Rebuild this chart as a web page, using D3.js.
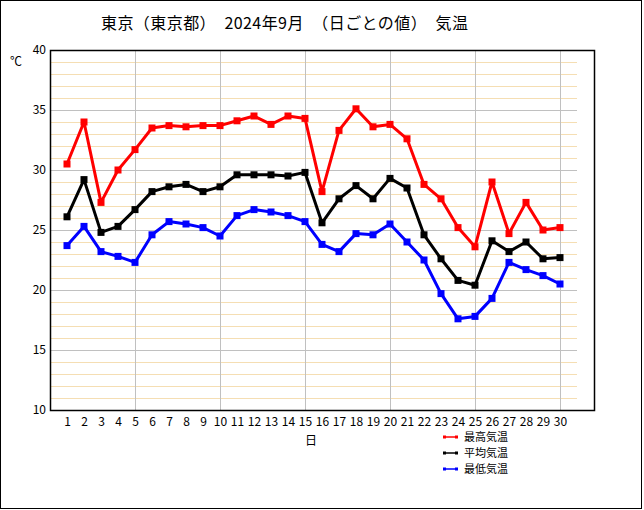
<!DOCTYPE html>
<html>
<head>
<meta charset="utf-8">
<script src="https://cdn.jsdelivr.net/npm/d3@7"></script>
<style>
    body { margin: 0; background: #fff; }
    text { font-family: "Noto Sans CJK JP", sans-serif; }
</style>
</head>
<body>
<div class="chart"></div>
<script>
// 東京 2024年9月 日ごとの気温
var days = d3.range(1, 31);
var maxTemp = [30.5, 34.0, 27.3, 30.0, 31.7, 33.5, 33.7, 33.6, 33.7, 33.7,
    34.1, 34.5, 33.8, 34.5, 34.3, 28.2, 33.3, 35.1, 33.6, 33.8,
    32.6, 28.8, 27.6, 25.2, 23.6, 29.0, 24.7, 27.3, 25.0, 25.2];
var meanTemp = [26.1, 29.2, 24.8, 25.3, 26.7, 28.2, 28.6, 28.8, 28.2, 28.6,
    29.6, 29.6, 29.6, 29.5, 29.8, 25.6, 27.6, 28.7, 27.6, 29.3,
    28.5, 24.6, 22.6, 20.8, 20.4, 24.1, 23.2, 24.0, 22.6, 22.7];
var minTemp = [23.7, 25.3, 23.2, 22.8, 22.3, 24.6, 25.7, 25.5, 25.2, 24.5,
    26.2, 26.7, 26.5, 26.2, 25.7, 23.8, 23.2, 24.7, 24.6, 25.5,
    24.0, 22.5, 19.7, 17.6, 17.8, 19.3, 22.3, 21.7, 21.2, 20.5];
var seriesNames = ["最高気温", "平均気温", "最低気温"];
var seriesColors = ["#ff0000", "#000000", "#0000ff"];
var yTicks = [10, 15, 20, 25, 30, 35, 40];
var xGridDays = [5, 10, 15, 20, 25, 30];
var title = "東京（東京都）　2024年9月　（日ごとの値）　気温";

var width = 644, height = 510;
var plot = { left: 50, right: 594, top: 50, bottom: 410 };

var x = d3.scaleLinear().domain([0, 32]).range([plot.left, plot.right]);
var y = d3.scaleLinear().domain([10, 40]).range([plot.bottom, plot.top]);

var svg = d3.select(".chart").append("svg")
    .attr("width", width)
    .attr("height", height);

// outer frame
svg.append("rect")
    .attr("x", 0.5).attr("y", 0.5)
    .attr("width", 641).attr("height", 508)
    .attr("fill", "#fff")
    .attr("stroke", "#000");

svg.append("text")
    .attr("x", 101).attr("y", 29)
    .attr("font-size", 16)
    .attr("textLength", 367)
    .attr("lengthAdjust", "spacing")
    .text(title);

// grid
var minor = d3.range(11, 40).filter(function (d) { return d % 5 !== 0; });
svg.append("g").selectAll("line")
    .data(minor)
    .enter().append("line")
    .attr("x1", x(0)).attr("x2", x(31))
    .attr("y1", function (d) { return Math.round(y(d)) + 0.5; })
    .attr("y2", function (d) { return Math.round(y(d)) + 0.5; })
    .attr("stroke", "#f5deb3");

svg.append("g").selectAll("line")
    .data([15, 20, 25, 30, 35])
    .enter().append("line")
    .attr("x1", x(0)).attr("x2", x(31))
    .attr("y1", function (d) { return Math.round(y(d)) + 0.5; })
    .attr("y2", function (d) { return Math.round(y(d)) + 0.5; })
    .attr("stroke", "#c0c0c0");

svg.append("g").selectAll("line")
    .data(xGridDays)
    .enter().append("line")
    .attr("x1", function (d) { return Math.round(x(d)) + 0.5; })
    .attr("x2", function (d) { return Math.round(x(d)) + 0.5; })
    .attr("y1", plot.top).attr("y2", plot.bottom)
    .attr("stroke", "#c0c0c0");

svg.append("rect")
    .attr("x", plot.left + 0.5).attr("y", plot.top + 0.5)
    .attr("width", plot.right - plot.left).attr("height", plot.bottom - plot.top)
    .attr("fill", "none")
    .attr("stroke", "#000")
    .attr("stroke-width", 1.5);

// axes
var yAxis = d3.axisLeft(y).tickValues(yTicks).tickSize(0).tickPadding(4);
var gy = svg.append("g")
    .attr("transform", "translate(" + plot.left + ",0)")
    .call(yAxis);
gy.select(".domain").remove();
gy.selectAll("text").attr("font-size", 12).attr("font-family", "\"Noto Sans CJK JP\", sans-serif");

var xAxis = d3.axisBottom(x).tickValues(days).tickSize(0).tickPadding(7);
var gx = svg.append("g")
    .attr("transform", "translate(0," + plot.bottom + ")")
    .call(xAxis);
gx.select(".domain").remove();
gx.selectAll("text").attr("font-size", 12).attr("font-family", "\"Noto Sans CJK JP\", sans-serif");

svg.append("text")
    .attr("x", 16).attr("y", 62)
    .attr("text-anchor", "middle").attr("dy", "0.35em")
    .attr("font-size", 12)
    .text("℃");

svg.append("text")
    .attr("x", 311).attr("y", 441)
    .attr("text-anchor", "middle").attr("dy", "0.35em")
    .attr("font-size", 12)
    .text("日");

// series
var series = [maxTemp, meanTemp, minTemp];
var line = d3.line()
    .x(function (d, i) { return x(days[i]); })
    .y(function (d) { return y(d); });

series.forEach(function (values, k) {
    var g = svg.append("g");
    g.append("path")
        .datum(values)
        .attr("d", line)
        .attr("fill", "none")
        .attr("stroke", seriesColors[k])
        .attr("stroke-width", 3)
        .attr("stroke-linejoin", "round");
    g.selectAll("rect")
        .data(values)
        .enter().append("rect")
        .attr("x", function (d, i) { return x(days[i]) - 3.5; })
        .attr("y", function (d) { return y(d) - 3.5; })
        .attr("width", 7).attr("height", 7)
        .attr("fill", seriesColors[k]);
});

// legend
var legend = svg.append("g").selectAll("g")
    .data(seriesNames)
    .enter().append("g")
    .attr("transform", function (d, i) { return "translate(444," + (437 + i * 16) + ")"; });
legend.append("line")
    .attr("x1", 0).attr("x2", 13)
    .attr("stroke", function (d, i) { return seriesColors[i]; })
    .attr("stroke-width", 1.5);
legend.append("rect")
    .attr("x", -1).attr("y", -1.5).attr("width", 3).attr("height", 3)
    .attr("fill", function (d, i) { return seriesColors[i]; });
legend.append("rect")
    .attr("x", 11).attr("y", -1.5).attr("width", 3).attr("height", 3)
    .attr("fill", function (d, i) { return seriesColors[i]; });
legend.append("text")
    .attr("x", 20).attr("dy", "0.38em")
    .attr("font-size", 11)
    .text(function (d) { return d; });
</script>
</body>
</html>
